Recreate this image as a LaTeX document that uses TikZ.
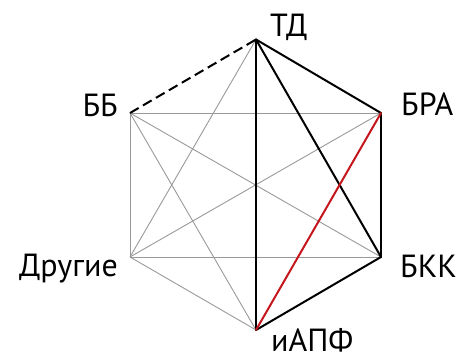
\documentclass[tikz,border=0pt]{standalone}
\usepackage{fontspec}
\setmainfont{PT Sans}
\usetikzlibrary{arrows.meta}

\definecolor{linkred}{RGB}{196,22,28}

\begin{document}
\begin{tikzpicture}[x=1pt,y=1pt,
    thin link/.style={draw=black!40,line width=0.9pt},
    main link/.style={draw=black,line width=2pt,line cap=round},
    red link/.style={draw=linkred,line width=2pt,line cap=round},
    weak link/.style={draw=black,line width=2pt,dash pattern=on 10pt off 5pt},
    drug/.style={font=\fontsize{32}{34}\selectfont,inner sep=0pt}]
            \useasboundingbox (0,0) rectangle (463,352);
            \coordinate (td) at (256,312.5);
            \coordinate (bra) at (381,239);
            \coordinate (bkk) at (381,95);
            \coordinate (iapf) at (256,22);
            \coordinate (drugie) at (130,95);
            \coordinate (bb) at (130,239);
            % gray links
            \draw [thin link] (bb) -- (bra);
            \draw [thin link] (bb) -- (bkk);
            \draw [thin link] (bb) -- (iapf);
            \draw [thin link] (bb) -- (drugie);
            \draw [thin link] (drugie) -- (td);
            \draw [thin link] (drugie) -- (bra);
            \draw [thin link] (drugie) -- (bkk);
            \draw [thin link] (drugie) -- (iapf);
            % black links
            \draw [main link] (td) -- (bra);
            \draw [main link] (td) -- (bkk);
            \draw [main link] (td) -- (iapf);
            \draw [main link] (bra) -- (bkk);
            \draw [main link] (bkk) -- (iapf);
            \draw [red link] (bra) -- (iapf);
            \draw [weak link] (bb) -- (td);
            % labels
            \node (lbltd) [drug,anchor=base west] at (270,315) {ТД};
            \node (lblbra) [drug,anchor=base west] at (401,236) {БРА};
            \node (lblbkk) [drug,anchor=base west] at (400,74) {БКК};
            \node (lbliapf) [drug,anchor=base west] at (271,0) {иАПФ};
            \node (lbldrugie) [drug,anchor=base east] at (118,75) {Другие};
            \node (lblbb) [drug,anchor=base east] at (118,235) {ББ};
        \end{tikzpicture}
\end{document}
